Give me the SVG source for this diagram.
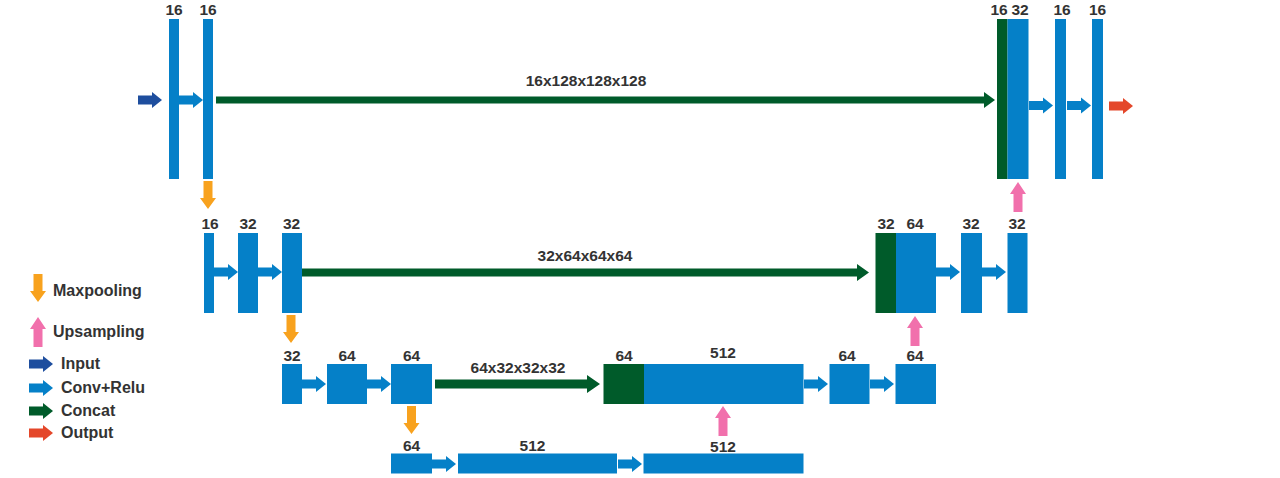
<svg xmlns="http://www.w3.org/2000/svg" xmlns:xlink="http://www.w3.org/1999/xlink" width="1280" height="478" viewBox="0 0 1280 478">
<style>
.b{fill:#0580C8}
.g{fill:#005B2A}
.o{fill:#F8A21E}
.p{fill:#F170AC}
.in{fill:#1E4E9E}
.out{fill:#E4472A}
.t{font-family:"Liberation Sans",Arial,sans-serif;font-weight:bold;font-size:15.5px;fill:#333;text-anchor:middle}
.d{font-family:"Liberation Sans",Arial,sans-serif;font-weight:bold;font-size:15.5px;fill:#333;text-anchor:middle}
.l{font-family:"Liberation Sans",Arial,sans-serif;font-weight:bold;font-size:16px;fill:#333}
</style>
<defs>
<path id="ha" d="M0,-4.5H14V-8L24,0L14,8V4.5H0Z"/>
<path id="da" d="M-4.5,0V17H-8L0,28L8,17H4.5V0Z"/>
<path id="ua" d="M-4.5,30V12H-8L0,0L8,12H4.5V30Z"/>
</defs>
<rect width="1280" height="478" fill="#fff"/>

<g id="connectors">
<use xlink:href="#ha" class="in" x="138" y="100"/>
<use xlink:href="#ha" class="b" x="179" y="100"/>
<path class="g" d="M216,96.5H984V92L995,100L984,108V103.5H216Z"/>
<use xlink:href="#ha" class="b" x="1029" y="105.5"/>
<use xlink:href="#ha" class="b" x="1067" y="105.5"/>
<use xlink:href="#ha" class="out" x="1109" y="106"/>
<use xlink:href="#da" class="o" x="208" y="181"/>
<use xlink:href="#ua" class="p" x="1018" y="182"/>

<use xlink:href="#ha" class="b" x="214" y="272"/>
<use xlink:href="#ha" class="b" x="258" y="272"/>
<path class="g" d="M302,268.5H857V264L869,272.5L857,281V276.5H302Z"/>
<use xlink:href="#ha" class="b" x="936" y="272"/>
<use xlink:href="#ha" class="b" x="982" y="272"/>
<use xlink:href="#da" class="o" x="291" y="315"/>
<use xlink:href="#ua" class="p" x="915" y="316"/>

<use xlink:href="#ha" class="b" x="302" y="384"/>
<use xlink:href="#ha" class="b" x="367" y="384"/>
<path class="g" d="M435,379.5H587V375L600,384L587,393V388.5H435Z"/>
<use xlink:href="#ha" class="b" x="804" y="384"/>
<use xlink:href="#ha" class="b" x="870" y="384"/>
<use xlink:href="#da" class="o" x="411.5" y="406"/>
<use xlink:href="#ua" class="p" x="723" y="406"/>

<use xlink:href="#ha" class="b" x="432" y="464"/>
<use xlink:href="#ha" class="b" x="618" y="464"/>
</g>

<g id="dim-labels">
<text class="d" x="586" y="86">16x128x128x128</text>
<text class="d" x="585" y="261">32x64x64x64</text>
<text class="d" x="518" y="373">64x32x32x32</text>
</g>

<g id="n1a"><rect class="b" x="169" y="19" width="10" height="160"/><text class="t" x="174" y="15">16</text></g>
<g id="n1b"><rect class="b" x="203" y="19" width="10" height="160"/><text class="t" x="208" y="15">16</text></g>
<g id="n1c"><rect class="g" x="997" y="19" width="10.5" height="160"/><rect class="b" x="1007.5" y="19" width="21" height="160"/><text class="t" x="999" y="15">16</text><text class="t" x="1020" y="15">32</text></g>
<g id="n1d"><rect class="b" x="1055" y="19" width="11" height="160"/><text class="t" x="1062" y="15">16</text></g>
<g id="n1e"><rect class="b" x="1092" y="19" width="11" height="160"/><text class="t" x="1097.5" y="15">16</text></g>

<g id="n2a"><rect class="b" x="204" y="233" width="10" height="80"/><text class="t" x="210" y="229">16</text></g>
<g id="n2b"><rect class="b" x="238" y="233" width="20" height="80"/><text class="t" x="248" y="229">32</text></g>
<g id="n2c"><rect class="b" x="282" y="233" width="20" height="80"/><text class="t" x="291.5" y="229">32</text></g>
<g id="n2d"><rect class="g" x="875.5" y="233" width="20.5" height="80"/><rect class="b" x="896" y="233" width="40" height="80"/><text class="t" x="886" y="229">32</text><text class="t" x="915" y="229">64</text></g>
<g id="n2e"><rect class="b" x="961" y="233" width="21" height="80"/><text class="t" x="971" y="229">32</text></g>
<g id="n2f"><rect class="b" x="1007.5" y="233" width="20" height="80"/><text class="t" x="1017" y="229">32</text></g>

<g id="n3a"><rect class="b" x="282" y="364" width="20" height="40"/><text class="t" x="292" y="361">32</text></g>
<g id="n3b"><rect class="b" x="327" y="364" width="40" height="40"/><text class="t" x="347" y="361">64</text></g>
<g id="n3c"><rect class="b" x="391" y="364" width="41" height="40"/><text class="t" x="411.5" y="361">64</text></g>
<g id="n3d"><rect class="g" x="603.5" y="364" width="40.5" height="40"/><rect class="b" x="644" y="364" width="159.5" height="40"/><text class="t" x="624" y="361">64</text><text class="t" x="723" y="358">512</text></g>
<g id="n3e"><rect class="b" x="829.5" y="364" width="40" height="40"/><text class="t" x="847" y="361">64</text></g>
<g id="n3f"><rect class="b" x="895.5" y="364" width="40.5" height="40"/><text class="t" x="915" y="361">64</text></g>

<g id="n4a"><rect class="b" x="391" y="453.5" width="41" height="20"/><text class="t" x="411.5" y="451">64</text></g>
<g id="n4b"><rect class="b" x="458" y="453.5" width="159" height="20"/><text class="t" x="532.5" y="451">512</text></g>
<g id="n4c"><rect class="b" x="643.5" y="453.5" width="160" height="20"/><text class="t" x="723" y="452">512</text></g>

<g id="legend">
<use xlink:href="#da" class="o" x="38" y="274"/>
<text class="l" x="53" y="296">Maxpooling</text>
<use xlink:href="#ua" class="p" x="38" y="317"/>
<text class="l" x="53" y="337">Upsampling</text>
<use xlink:href="#ha" class="in" x="29" y="364"/>
<text class="l" x="61" y="369">Input</text>
<use xlink:href="#ha" class="b" x="29" y="388"/>
<text class="l" x="61" y="393">Conv+Relu</text>
<use xlink:href="#ha" class="g" x="29" y="411"/>
<text class="l" x="61" y="416">Concat</text>
<use xlink:href="#ha" class="out" x="29" y="433"/>
<text class="l" x="61" y="438">Output</text>
</g>
</svg>
